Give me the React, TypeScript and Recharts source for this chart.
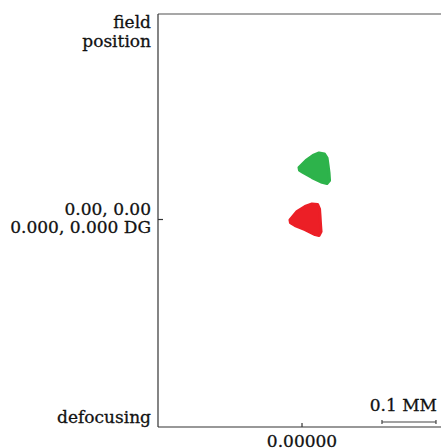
import { ScatterChart, Scatter, XAxis, YAxis, ReferenceLine } from "recharts"

// plot extent in mm (image plane), 0 at the chief ray
const X_DOMAIN: [number, number] = [-0.2667, 0.2574]
const Y_DOMAIN: [number, number] = [-0.3843, 0.3806]

const X_TICKS = [0]
const X_TICK_LABELS = ["0.00000"]
const Y_TICKS = [Y_DOMAIN[1], 0, Y_DOMAIN[0]]
const Y_TICK_LABELS = [["field", "position"], ["0.00, 0.00", "0.000, 0.000 DG"], ["defocusing"]]

// spot outlines, mm
const GREEN_SPOT = [
  { x: -0.0056, y: 0.0963 },
  { x: 0.0074, y: 0.1093 },
  { x: 0.0204, y: 0.1186 },
  { x: 0.0315, y: 0.1232 },
  { x: 0.0417, y: 0.1214 },
  { x: 0.0464, y: 0.1139 },
  { x: 0.0482, y: 0.1009 },
  { x: 0.0501, y: 0.0861 },
  { x: 0.051, y: 0.0721 },
  { x: 0.0463, y: 0.0666 },
  { x: 0.0352, y: 0.0694 },
  { x: 0.0185, y: 0.0777 },
  { x: 0.0019, y: 0.087 },
  { x: -0.0047, y: 0.0912 },
]

const RED_SPOT = [
  { x: -0.0223, y: -0.0009 },
  { x: -0.0093, y: 0.0149 },
  { x: 0.0056, y: 0.0241 },
  { x: 0.0185, y: 0.0288 },
  { x: 0.0288, y: 0.0279 },
  { x: 0.0325, y: 0.0194 },
  { x: 0.0334, y: 0.0065 },
  { x: 0.0343, y: -0.0083 },
  { x: 0.0353, y: -0.0223 },
  { x: 0.0315, y: -0.0297 },
  { x: 0.0241, y: -0.0279 },
  { x: 0.0056, y: -0.0186 },
  { x: -0.013, y: -0.0112 },
  { x: -0.0214, y: -0.0061 },
]

const SCALE_BAR_MM = 0.1
const SCALE_BAR_LABEL = "0.1 MM"
const SCALE_BAR_START: [number, number] = [0.1481, -0.375]

const GREEN = "#2db34b"
const RED = "#ec1f26"
const TEXT = "#111"
const FONT = "DejaVu Serif"

const Y_LINE_OFFSETS = [[14, 33], [-5, 13], [-4]]

const textStyle = { fontFamily: FONT, fontSize: 17, fill: TEXT, stroke: TEXT, strokeWidth: 0.3 }

function YTick(props: any) {
  const { x, y, payload } = props
  const i = Y_TICKS.indexOf(payload.value)
  if (i < 0) return <g />
  const lines = Y_TICK_LABELS[i]
  const offs = Y_LINE_OFFSETS[i]
  return (
    <g>
      {i === 1 && <line x1={x} x2={x + 5} y1={y} y2={y} stroke="#333" strokeWidth={1.2} />}
      <text textAnchor="end" {...textStyle}>
        {lines.map((t, k) => (
          <tspan key={k} x={x - 7} y={y + offs[k]}>
            {t}
          </tspan>
        ))}
      </text>
    </g>
  )
}

function XTick(props: any) {
  const { x, y, payload } = props
  const i = X_TICKS.indexOf(payload.value)
  return (
    <g>
      <line x1={x} x2={x} y1={y} y2={y - 4} stroke="#333" strokeWidth={1.2} />
      <text x={x} y={y + 20} textAnchor="middle" {...textStyle}>
        {X_TICK_LABELS[i]}
      </text>
    </g>
  )
}

function ScaleBar(props: any) {
  const { x1, y1, x2 } = props
  return (
    <g>
      <g stroke="#444" strokeWidth={1.2}>
        <line x1={x1} x2={x2} y1={y1} y2={y1} />
        <line x1={x1} x2={x1} y1={y1 - 2} y2={y1 + 2} />
        <line x1={x2} x2={x2} y1={y1 - 2} y2={y1 + 2} />
      </g>
      <text x={x2 + 1} y={y1 - 10.5} textAnchor="end" {...textStyle}>
        {SCALE_BAR_LABEL}
      </text>
    </g>
  )
}

const noDot = () => <g />

export default function App() {
  return (
    <div style={{ position: "absolute", left: 0, top: 0, background: "#fff" }}>
      <ScatterChart width={441} height={448} margin={{ top: 14, right: 0, bottom: 0, left: 0 }}>
        <XAxis
          type="number"
          dataKey="x"
          domain={X_DOMAIN}
          allowDataOverflow
          ticks={X_TICKS}
          height={21}
          tickSize={0}
          tickMargin={0}
          tickLine={false}
          axisLine={{ stroke: "#333", strokeWidth: 1.2 }}
          tick={<XTick />}
          interval={0}
        />
        <YAxis
          type="number"
          dataKey="y"
          domain={Y_DOMAIN}
          allowDataOverflow
          ticks={Y_TICKS}
          width={158}
          tickSize={0}
          tickMargin={0}
          tickLine={false}
          axisLine={{ stroke: "#333", strokeWidth: 1.2 }}
          tick={<YTick />}
          interval={0}
        />
        <ReferenceLine y={Y_DOMAIN[1]} stroke="#8a8a8a" strokeWidth={1.5} />
        <Scatter
          data={GREEN_SPOT}
          fill={GREEN}
          shape={noDot}
          line={{ fill: GREEN, stroke: GREEN, strokeWidth: 3, strokeLinejoin: "round" }}
          lineJointType="linearClosed"
          isAnimationActive={false}
        />
        <Scatter
          data={RED_SPOT}
          fill={RED}
          shape={noDot}
          line={{ fill: RED, stroke: RED, strokeWidth: 3, strokeLinejoin: "round" }}
          lineJointType="linearClosed"
          isAnimationActive={false}
        />
        <ReferenceLine
          segment={[
            { x: SCALE_BAR_START[0], y: SCALE_BAR_START[1] },
            { x: SCALE_BAR_START[0] + SCALE_BAR_MM, y: SCALE_BAR_START[1] },
          ]}
          shape={<ScaleBar />}
        />
      </ScatterChart>
    </div>
  )
}
